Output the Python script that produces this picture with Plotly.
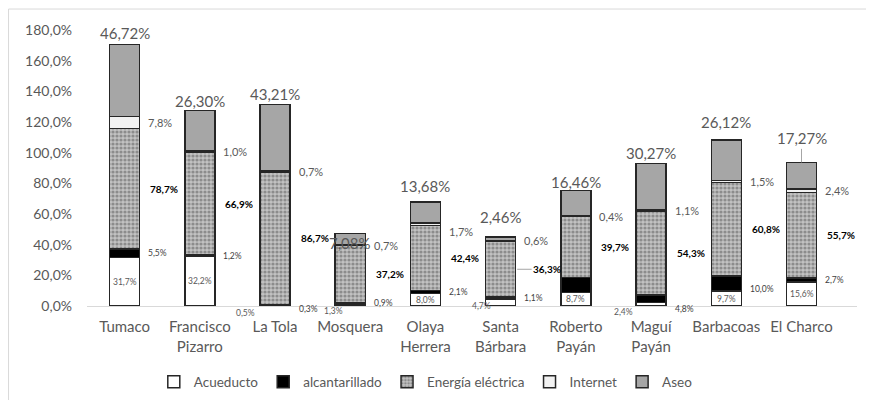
import plotly.graph_objects as go

categories = ["Tumaco", "Francisco<br>Pizarro", "La Tola", "Mosquera", "Olaya<br>Herrera",
              "Santa<br>Bárbara", "Roberto<br>Payán", "Maguí<br>Payán", "Barbacoas", "El Charco"]
acueducto = [31.7, 32.2, 0.5, 1.3, 8.0, 4.7, 8.7, 2.4, 9.7, 15.6]
alcantarillado = [5.5, 1.2, 0.3, 0.9, 2.1, 1.1, 10.0, 4.8, 10.0, 2.7]
energia = [78.7, 66.9, 86.7, 37.2, 42.4, 36.3, 39.7, 54.3, 60.8, 55.7]
internet = [7.8, 1.0, 0.7, 0.7, 1.7, 0.6, 0.4, 1.1, 1.5, 2.4]
aseo = [46.72, 26.30, 43.21, 7.08, 13.68, 2.46, 16.46, 30.27, 26.12, 17.27]
alc_label_shown = [True, True, True, True, True, True, False, True, True, True]
y_ticks = [0, 20, 40, 60, 80, 100, 120, 140, 160, 180]

# label placement tweaks (pixels)
top_shift = [12, 9, 11, -9, 16, 20, 9, 11, 18, 24]
alc_yshift = [0, 0, -4, 0, 0, 0, 0, -10, -6, 0]
acu_out_xshift = [0, 0, -30, -17, 0, -19, 0, -28, 0, 0]
acu_out_yshift = [0, 0, -7, -5, 0, 0, 0, -6, 0, 0]
int_yshift = [0, 0, 0, 0, -7, 0, 0, 0, 0, 0]

GRAY_TXT = "#595959"
LINE = "#262626"
FONT = "Lato"


def pct(v, d=1):
    return f"{v:.{d}f}".replace(".", ",") + "%"


fig = go.Figure()
fig.add_bar(name="Acueducto", x=categories, y=acueducto,
            marker=dict(color="#ffffff", line=dict(color=LINE, width=1.5)))
fig.add_bar(name="alcantarillado", x=categories, y=alcantarillado,
            marker=dict(color="#000000", line=dict(color=LINE, width=1.5)))
fig.add_bar(name="Energía eléctrica", x=categories, y=energia,
            marker=dict(color="#bdbdbd", line=dict(color=LINE, width=1.5),
                        pattern=dict(shape=".", fgcolor="#555555", bgcolor="#c2c2c2",
                                     size=4, solidity=0.5)))
fig.add_bar(name="Internet", x=categories, y=internet,
            marker=dict(color="#f2f2f2", line=dict(color=LINE, width=1.5)))
fig.add_bar(name="Aseo", x=categories, y=aseo,
            marker=dict(color="#a6a6a6", line=dict(color=LINE, width=1.5)))

HALF = 15.5  # half bar width in px
ann = []
for i, c in enumerate(categories):
    a, b, e, n, s = acueducto[i], alcantarillado[i], energia[i], internet[i], aseo[i]
    # acueducto
    if a >= 6:
        ann.append(dict(x=c, y=a / 2, text=pct(a), showarrow=False,
                        font=dict(size=8.5, color=GRAY_TXT)))
    else:
        ann.append(dict(x=c, y=0, text=pct(a), showarrow=False, xshift=acu_out_xshift[i],
                        yshift=acu_out_yshift[i], font=dict(size=8.5, color=GRAY_TXT)))
    # alcantarillado
    if alc_label_shown[i]:
        ann.append(dict(x=c, y=a + b / 2, text=pct(b), showarrow=False, xanchor="left",
                        xshift=HALF + 6, yshift=alc_yshift[i],
                        font=dict(size=8.5, color="#404040")))
    # energia
    if i == 5:
        ann.append(dict(x=c, y=a + b + e / 2, text="<b>" + pct(e) + "</b>", showarrow=True,
                        arrowhead=0, arrowwidth=1, arrowcolor="#a6a6a6", ax=30, ay=0,
                        xshift=HALF + 1, font=dict(size=10, color="#000000")))
    else:
        ann.append(dict(x=c, y=a + b + e / 2, text="<b>" + pct(e) + "</b>", showarrow=False,
                        xanchor="left", xshift=HALF + 8,
                        font=dict(size=10, color="#000000")))
    # internet
    ann.append(dict(x=c, y=a + b + e + n / 2, text=pct(n), showarrow=False, xanchor="left",
                    xshift=HALF + 6, yshift=int_yshift[i], font=dict(size=11, color=GRAY_TXT)))
    # aseo (top)
    total = a + b + e + n + s
    if i == 9:
        ann.append(dict(x=c, y=total, text=pct(s, 2), showarrow=True, arrowhead=0,
                        arrowwidth=1, arrowcolor="#a6a6a6", ax=0, ay=-top_shift[i],
                        font=dict(size=15, color=GRAY_TXT)))
    else:
        ann.append(dict(x=c, y=total, text=pct(s, 2), showarrow=False,
                        yshift=top_shift[i], font=dict(size=15, color=GRAY_TXT)))

fig.update_layout(
    barmode="stack",
    bargap=0.6,
    width=858, height=392,
    margin=dict(l=79, r=8.5, t=22, b=94, autoexpand=False),
    paper_bgcolor="white", plot_bgcolor="white",
    font=dict(family=FONT, color=GRAY_TXT),
    showlegend=True,
    legend=dict(orientation="h", x=0.44, xanchor="center", y=-0.275, yanchor="middle",
                traceorder="normal", font=dict(size=13.5, color=GRAY_TXT), itemwidth=30),
    annotations=ann,
    shapes=[
        dict(type="line", xref="paper", yref="paper", x0=-0.1019, x1=1.02, y0=1.076, y1=1.076,
             line=dict(color="#d9d9d9", width=1)),
        dict(type="line", xref="paper", yref="paper", x0=-0.1019, x1=-0.1019, y0=1.076, y1=-0.35,
             line=dict(color="#d9d9d9", width=1)),
    ],
)
fig.update_xaxes(showline=True, linecolor="#d9d9d9", linewidth=1, ticks="", automargin=False,
                 tickfont=dict(size=15, color=GRAY_TXT), showgrid=False, ticklabelstandoff=7)
fig.update_yaxes(range=[0, 180], tickvals=y_ticks, ticktext=[pct(v) for v in y_ticks],
                 showgrid=False, zeroline=False, showline=False, ticks="", automargin=False,
                 tickfont=dict(size=14, color=GRAY_TXT), ticklabelstandoff=14)

fig.write_html("out.html")
